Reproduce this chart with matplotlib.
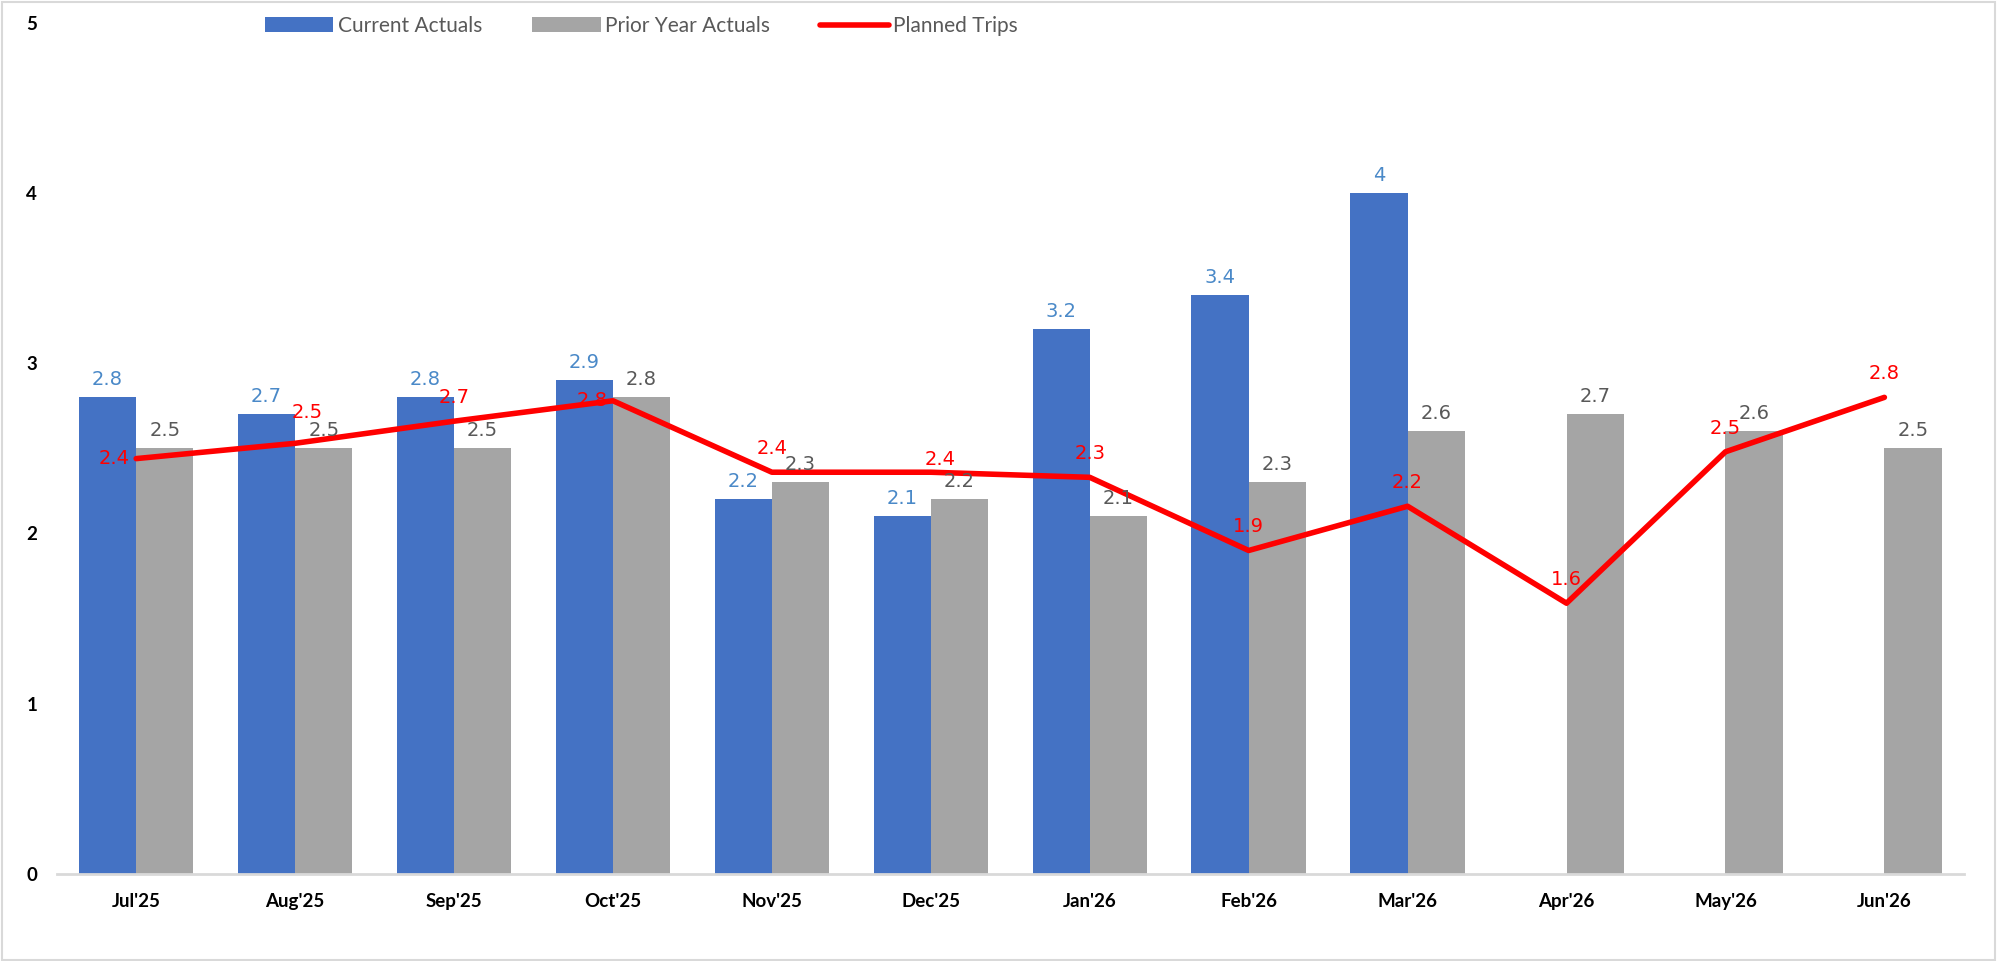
import matplotlib.pyplot as plt
import numpy as np
from matplotlib.patches import Rectangle

# data
months = ["Jul'25", "Aug'25", "Sep'25", "Oct'25", "Nov'25", "Dec'25",
          "Jan'26", "Feb'26", "Mar'26", "Apr'26", "May'26", "Jun'26"]
current = [2.8, 2.7, 2.8, 2.9, 2.2, 2.1, 3.2, 3.4, 4.0, None, None, None]
prior = [2.5, 2.5, 2.5, 2.8, 2.3, 2.2, 2.1, 2.3, 2.6, 2.7, 2.6, 2.5]
planned = [2.44, 2.53, 2.66, 2.78, 2.36, 2.36, 2.33, 1.90, 2.16, 1.59, 2.48, 2.80]

# label nudges for the planned-trip labels (points)
red_offsets = [(-16, 0), (9, 22), (0, 17), (-15, 0), (0, 17), (7, 9),
               (0, 17), (0, 17), (0, 17), (0, 17), (0, 17), (0, 17)]

blue = '#4472C4'
grey = '#A5A5A5'
red = '#FF0000'

plt.rcParams['font.family'] = ['Lato', 'DejaVu Sans']

fig = plt.figure(figsize=(19.97, 9.61), dpi=100)
ax = fig.add_axes([0.0284, 0.0908, 0.955, 0.8852])

x = np.arange(len(months))
w = 0.36
cur_vals = [v if v is not None else 0 for v in current]
cur_bars = ax.bar(x - w / 2, cur_vals, w, color=blue, label='Current Actuals')
pri_bars = ax.bar(x + w / 2, prior, w, color=grey, label='Prior Year Actuals')
line, = ax.plot(x, planned, color=red, lw=4, label='Planned Trips', solid_capstyle='round', zorder=3)

lbl_font = dict(fontsize=14, family='DejaVu Sans')
for i, v in enumerate(current):
    if v is None:
        continue
    ax.annotate('%g' % v, (x[i] - w / 2, v), xytext=(0, 13), textcoords='offset points',
                ha='center', va='center', color='#4A89C8', **lbl_font)
for i, v in enumerate(prior):
    ax.annotate('%g' % v, (x[i] + w / 2, v), xytext=(0, 13), textcoords='offset points',
                ha='center', va='center', color='#595959', **lbl_font)
for i, v in enumerate(planned):
    ax.annotate('%.1f' % v, (x[i], v), xytext=red_offsets[i], textcoords='offset points',
                ha='center', va='center', color=red, zorder=4, **lbl_font)

ax.set_xlim(-0.5, len(months) - 0.5)
ax.set_ylim(0, 5)
ax.set_xticks(x)
ax.set_xticklabels(months, fontweight='bold', fontsize=13.5)
ax.set_yticks(range(6))
ax.set_yticklabels([str(i) for i in range(6)], fontweight='bold', fontsize=13.5)
ax.tick_params(axis='both', length=0)
ax.tick_params(axis='x', pad=14)
ax.tick_params(axis='y', pad=14)
for s in ['top', 'right', 'left']:
    ax.spines[s].set_visible(False)
ax.spines['bottom'].set_color('#D9D9D9')
ax.spines['bottom'].set_linewidth(2)

leg = fig.legend([cur_bars, pri_bars, line], ['Current Actuals', 'Prior Year Actuals', 'Planned Trips'],
                 loc='center', bbox_to_anchor=(0.321, 0.973), ncol=3, frameon=False,
                 fontsize=15, handlelength=3.3, handletextpad=0.2, columnspacing=2.4)
for t in leg.get_texts():
    t.set_color('#595959')

fig.patches.append(Rectangle((0.001, 0.001), 0.998, 0.997, transform=fig.transFigure,
                             fill=False, edgecolor='#D9D9D9', lw=1.5))

fig.savefig('out.png', dpi=100)
